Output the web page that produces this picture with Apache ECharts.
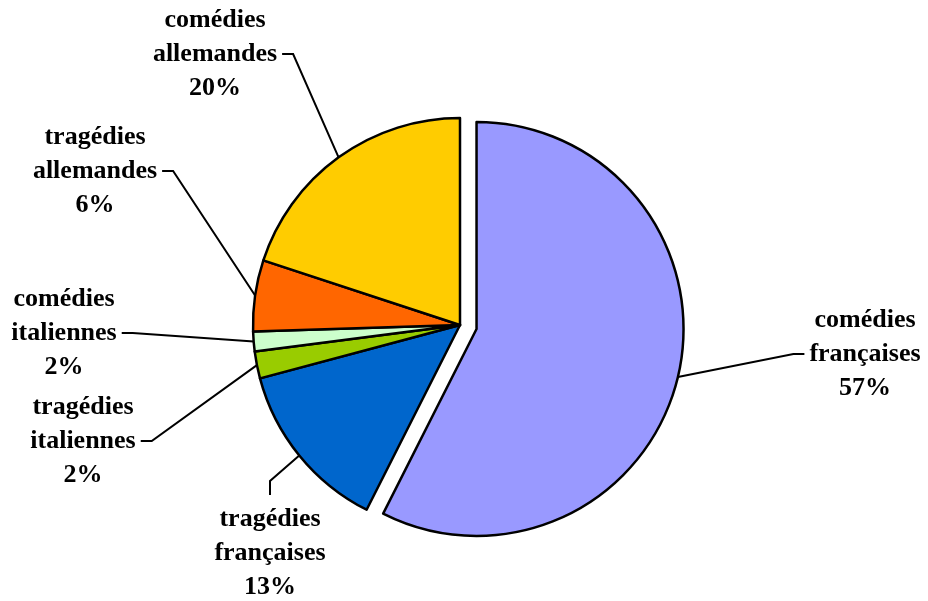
<!DOCTYPE html>
<html><head><meta charset="utf-8">
<script src="https://cdn.jsdelivr.net/npm/echarts@6/dist/echarts.min.js"></script>
<style>html,body{margin:0;padding:0;background:#fff}#c{width:928px;height:601px}</style>
</head><body><div id="c"></div>
<script>
const categories = ['comédies\nfrançaises', 'tragédies\nfrançaises', 'tragédies\nitaliennes', 'comédies\nitaliennes', 'tragédies\nallemandes', 'comédies\nallemandes'];
const values = [57.45, 13.4, 2.1, 1.55, 5.55, 19.95];
const colors = ['#9999FF', '#0066CC', '#99CC00', '#CCFFCC', '#FF6600', '#FFCC00'];
const explodedIndex = 0;

// layout only: centre of each label block and side where the leader attaches
const labelPos = [
  { x: 865, y: 354, side: 'left' },
  { x: 270, y: 553, side: 'top' },
  { x: 83, y: 441, side: 'right' },
  { x: 64, y: 333, side: 'right' },
  { x: 95, y: 171, side: 'right' },
  { x: 215, y: 54, side: 'right' }
];
const CX = 460, CY = 325, R = 207, EXPLODE = 17, START = 90;

// direction of the exploded slice (mid-angle), computed from the data
const total = values.reduce((a, b) => a + b, 0);
let before = 0;
for (let i = 0; i < explodedIndex; i++) before += values[i];
const midDeg = START - (before + values[explodedIndex] / 2) / total * 360;
const offX = Math.cos(midDeg * Math.PI / 180) * EXPLODE;
const offY = -Math.sin(midDeg * Math.PI / 180) * EXPLODE;

const clear = 'rgba(0,0,0,0)';
const baseData = categories.map((c, i) => ({
  name: c,
  value: values[i],
  itemStyle: i === explodedIndex
    ? { color: clear, borderWidth: 0 }
    : { color: colors[i] }
}));
const explodedData = categories.map((c, i) => ({
  name: c,
  value: values[i],
  label: { show: false },
  labelLine: { show: false },
  itemStyle: i === explodedIndex
    ? { color: colors[i] }
    : { color: clear, borderWidth: 0 }
}));

const common = {
  type: 'pie',
  radius: R,
  startAngle: START,
  clockwise: true,
  percentPrecision: 0,
  avoidLabelOverlap: false,
  emphasis: { disabled: true },
  itemStyle: { borderColor: '#000', borderWidth: 2.5 }
};

const chart = echarts.init(document.getElementById('c'), null, { renderer: 'canvas' });
chart.setOption({
  animation: false,
  backgroundColor: '#fff',
  series: [
    Object.assign({}, common, {
      center: [CX, CY],
      label: {
        show: true,
        position: 'outside',
        formatter: '{b}\n{d}%',
        fontFamily: 'Liberation Serif',
        fontWeight: 'bold',
        fontSize: 26,
        lineHeight: 34,
        color: '#000',
        align: 'center'
      },
      labelLine: { show: true, length: 20, length2: 10, lineStyle: { color: '#000', width: 2 } },
      labelLayout: function (params) {
        const p = labelPos[params.dataIndex];
        const w = params.labelRect.width, h = params.labelRect.height;
        let end, elbow;
        if (p.side === 'right') { end = [p.x + w / 2 + 5, p.y]; elbow = [end[0] + 11, p.y]; }
        else if (p.side === 'left') { end = [p.x - w / 2 - 5, p.y]; elbow = [end[0] - 11, p.y]; }
        else { end = [p.x, p.y - h / 2 - 7]; elbow = [p.x, end[1] - 14]; }
        let start = params.labelLinePoints ? params.labelLinePoints[0].slice() : elbow;
        if (params.dataIndex === explodedIndex) { start = [start[0] + offX, start[1] + offY]; }
        return { x: p.x, y: p.y, align: 'center', verticalAlign: 'middle', labelLinePoints: [start, elbow, end] };
      },
      data: baseData
    }),
    Object.assign({}, common, {
      center: [CX + offX, CY + offY],
      silent: true,
      label: { show: false },
      labelLine: { show: false },
      data: explodedData
    })
  ]
});
</script>
</body></html>
